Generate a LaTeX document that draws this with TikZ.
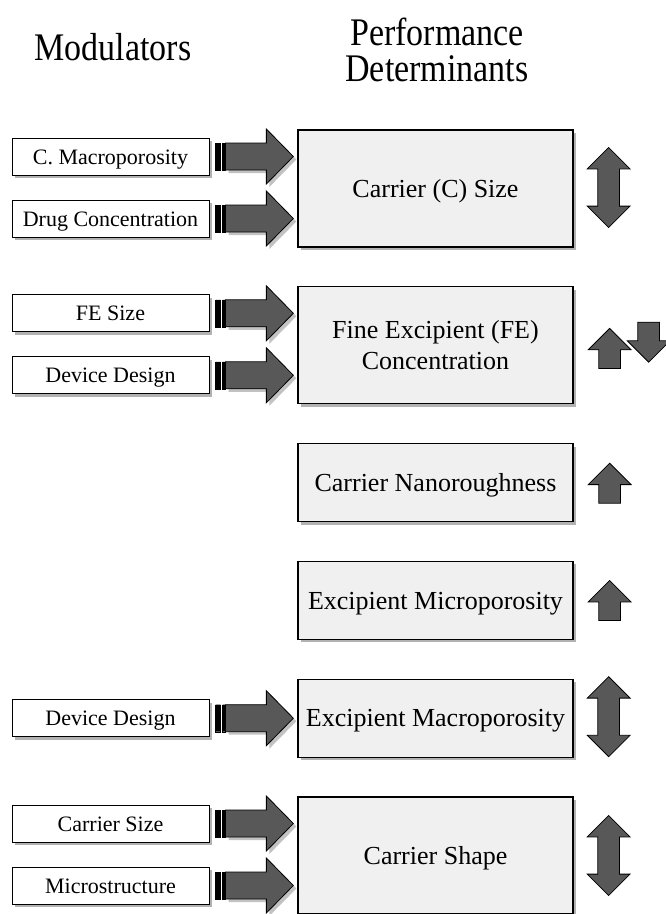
\documentclass[tikz,border=0pt]{standalone}
\usepackage{fontspec}
\setmainfont{Liberation Serif}
\usetikzlibrary{positioning,calc,shadows,shapes.arrows}
\definecolor{boxfill}{RGB}{240,240,240}
\definecolor{arrowgray}{RGB}{88,88,88}
\newcommand{\tallhead}[1]{\scalebox{1}[1.15]{#1}}
\tikzset{
headline/.style={align=center, font=\fontsize{34}{36}\selectfont},
determinant/.style={draw=black, line width=1.3pt, fill=boxfill, minimum width=275pt, minimum height=117pt, align=center, text depth=0pt, font=\fontsize{26}{31}\selectfont, drop shadow={shadow xshift=3pt, shadow yshift=-3pt, opacity=.5, fill=black!60}},
flat/.style={determinant, minimum height=78pt},
modulator/.style={draw=black, line width=1pt, fill=white, minimum width=197pt, minimum height=37pt, inner sep=0pt, text height=19pt, text depth=4pt, font=\fontsize{22}{26}\selectfont, drop shadow={shadow xshift=3pt, shadow yshift=-3pt, opacity=.5, fill=black!60}},
fatarrow/.style={draw=black, line width=0.8pt, fill=arrowgray, drop shadow={shadow xshift=3pt, shadow yshift=-3pt, opacity=.4, fill=black!60},
  to path={let \p1=(\tikztostart.east), \p2=(\tikztotarget.west) in
    (\x1+16pt,\y1-13.5pt) -- (\x2-31pt,\y1-13.5pt) -- (\x2-31pt,\y1-27.5pt) -- (\x2-4pt,\y1)
    -- (\x2-31pt,\y1+27.5pt) -- (\x2-31pt,\y1+13.5pt) -- (\x1+16pt,\y1+13.5pt) -- cycle}},
stripes/.style={draw=black, line width=0.4pt, fill=black,
  to path={let \p1=(\tikztostart.east) in
    (\x1+6pt,\y1-13.5pt) rectangle (\x1+11pt,\y1+13.5pt)
    (\x1+13pt,\y1-13.5pt) rectangle (\x1+16pt,\y1+13.5pt)}},
trend/.style={draw=black, line width=0.8pt, fill=arrowgray, inner xsep=0pt, inner ysep=10.5pt},
risearrow/.style={trend, single arrow, anchor=tail, rotate=90, single arrow tip angle=90, single arrow head extend=10.5pt, single arrow head indent=0pt, minimum height=40pt},
fallarrow/.style={risearrow, rotate=180},
bothways/.style={trend, double arrow, rotate=90, double arrow tip angle=90, double arrow head extend=10.5pt, double arrow head indent=0pt, minimum height=80pt}
}
\begin{document}
\begin{tikzpicture}[x=1pt, y=-1pt, node distance=38.5pt]
\useasboundingbox (0,0) rectangle (665,914);
\node[headline] (modtitle) at (113,47) {\tallhead{Modulators}};
\node[headline] (dettitle) at (437,50) {\tallhead{Performance}\\\tallhead{Determinants}};
% performance determinants
\node[determinant] (size) at (435.5,188.5) {Carrier (C) Size};
\node[determinant, below=of size, text depth={}] (fine) {Fine Excipient (FE)\\Concentration};
\node[flat, below=of fine] (nano) {Carrier Nanoroughness};
\node[flat, below=of nano] (micro) {Excipient Microporosity};
\node[flat, below=of micro] (macro) {Excipient Macroporosity};
\node[determinant, below=of macro] (shape) {Carrier Shape};
% modulators
\coordinate (modcol) at (110.5,0);
\node[modulator] (cmacro) at ($(size -| modcol)+(0,-32)$) {C. Macroporosity};
\node[modulator] (drug) at ($(size -| modcol)+(0,30)$) {Drug Concentration};
\node[modulator] (fesize) at ($(fine -| modcol)+(0,-32)$) {FE Size};
\node[modulator] (device) at ($(fine -| modcol)+(0,30)$) {Device Design};
\node[modulator] (device2) at (macro -| modcol) {Device Design};
\node[modulator] (csize) at ($(shape -| modcol)+(0,-32)$) {Carrier Size};
\node[modulator] (struct) at ($(shape -| modcol)+(0,30)$) {Microstructure};
% block arrows
\path (cmacro) edge[fatarrow] (size) edge[stripes] (size);
\path (drug) edge[fatarrow] (size) edge[stripes] (size);
\path (fesize) edge[fatarrow] (fine) edge[stripes] (fine);
\path (device) edge[fatarrow] (fine) edge[stripes] (fine);
\path (device2) edge[fatarrow] (macro) edge[stripes] (macro);
\path (csize) edge[fatarrow] (shape) edge[stripes] (shape);
\path (struct) edge[fatarrow] (shape) edge[stripes] (shape);
% trends
\node[bothways] (sizetrend) at ($(size.east)+(35,-1)$) {};
\node[risearrow] (fineup) at ($(fine.east)+(36,23.5)$) {};
\node[fallarrow] (finedown) at ($(fine.east)+(75,-23.5)$) {};
\node[risearrow] (nanotrend) at ($(nano.east)+(36,21)$) {};
\node[risearrow] (microtrend) at ($(micro.east)+(36,20.5)$) {};
\node[bothways] (macrotrend) at ($(macro.east)+(35,-1.5)$) {};
\node[bothways] (shapetrend) at ($(shape.east)+(35,0)$) {};
\end{tikzpicture}
\end{document}
